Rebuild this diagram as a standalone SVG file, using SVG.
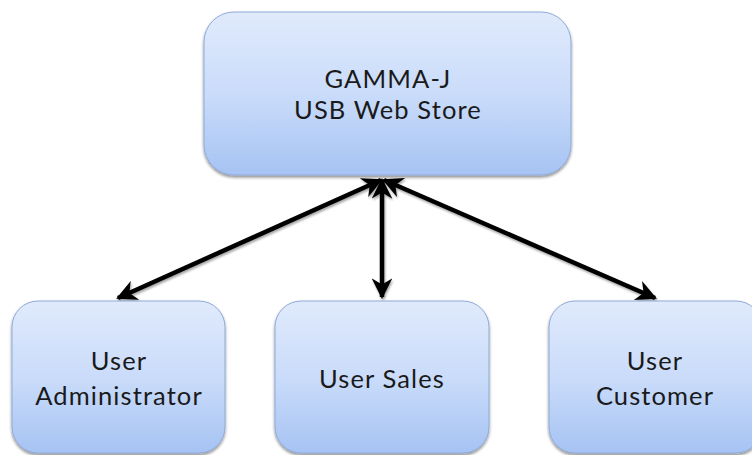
<svg xmlns="http://www.w3.org/2000/svg" width="752" height="455" viewBox="0 0 752 455">
  <style>
    .box { fill: url(#boxFill); stroke: #8faad8; stroke-width: 1; filter: url(#shadow); }
    .label { font-family: Lato, "Open Sans", "Liberation Sans", sans-serif; font-size: 25.5px; letter-spacing: 1.1px; fill: #1a1a1a; text-anchor: middle; }
    .link { stroke: #000; stroke-width: 4.5; fill: none; marker-start: url(#head); marker-end: url(#head); filter: url(#lineShadow); }
  </style>
  <defs>
    <linearGradient id="boxFill" x1="0" y1="0" x2="0" y2="1">
      <stop offset="0" stop-color="#e0eafc"/>
      <stop offset="0.5" stop-color="#cadcfa"/>
      <stop offset="1" stop-color="#a6c3f3"/>
    </linearGradient>
    <filter id="shadow" x="-10%" y="-10%" width="120%" height="125%">
      <feGaussianBlur in="SourceAlpha" stdDeviation="1.5"/>
      <feOffset dx="0" dy="2" result="b"/>
      <feComponentTransfer><feFuncA type="linear" slope="0.45"/></feComponentTransfer>
      <feMerge><feMergeNode/><feMergeNode in="SourceGraphic"/></feMerge>
    </filter>
    <filter id="lineShadow" filterUnits="userSpaceOnUse" x="0" y="0" width="752" height="455">
      <feGaussianBlur in="SourceAlpha" stdDeviation="1.2"/>
      <feOffset dx="1" dy="2"/>
      <feComponentTransfer><feFuncA type="linear" slope="0.35"/></feComponentTransfer>
      <feMerge><feMergeNode/><feMergeNode in="SourceGraphic"/></feMerge>
    </filter>
    <marker id="head" viewBox="0 0 10 10" refX="9" refY="5" markerWidth="5" markerHeight="4.6" markerUnits="strokeWidth" orient="auto-start-reverse">
      <path d="M0,0 L10,5 L0,10 L3,5 Z" fill="#000"/>
    </marker>
  </defs>

  <g id="connectors">
    <line class="link" x1="381" y1="180" x2="118" y2="298"/>
    <line class="link" x1="382" y1="180" x2="382" y2="297"/>
    <line class="link" x1="384" y1="180" x2="655" y2="298"/>
  </g>

  <g id="store">
    <rect class="box" x="204" y="12" width="367" height="163" rx="30"/>
    <text class="label" x="388" y="88">GAMMA-J</text>
    <text class="label" x="388" y="119">USB Web Store</text>
  </g>

  <g id="admin">
    <rect class="box" x="12" y="301" width="213" height="152" rx="26"/>
    <text class="label" x="119" y="370">User</text>
    <text class="label" x="119" y="405">Administrator</text>
  </g>

  <g id="sales">
    <rect class="box" x="275" y="301" width="214" height="152" rx="26"/>
    <text class="label" x="382" y="388">User Sales</text>
  </g>

  <g id="customer">
    <rect class="box" x="549" y="301" width="213" height="152" rx="26"/>
    <text class="label" x="655" y="370">User</text>
    <text class="label" x="655" y="405">Customer</text>
  </g>
</svg>
